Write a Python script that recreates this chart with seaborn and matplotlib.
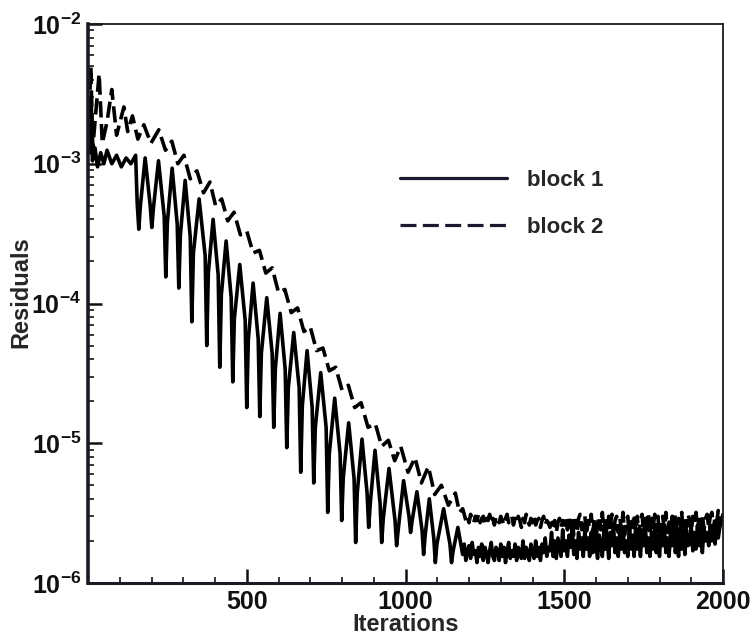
import numpy as np
import pandas as pd
import matplotlib
matplotlib.use("Agg")
import matplotlib.pyplot as plt
import seaborn as sns
from matplotlib.lines import Line2D
from matplotlib.ticker import FixedLocator, LogLocator, NullFormatter, MultipleLocator

# ---------------- data ----------------
series_names = ["block 1", "block 2"]

# block 1 (solid): start-up spikes, then rounded peaks / narrow deep dips every ~42 iterations
b1_iter = [1, 6, 10, 14, 22, 30, 40, 50, 60, 75, 90, 105, 120, 135, 150,
           155, 160, 165, 180, 196, 201, 206, 222, 240, 245, 250, 265,
           281, 286, 291, 306, 322, 327, 332, 350, 369, 374, 379, 394,
           410, 415, 420, 435, 451, 456, 461, 478, 495, 500, 505, 520,
           536, 541, 546, 563, 580, 585, 590, 605, 621, 626, 631, 648,
           665, 670, 675, 690, 706, 711, 716, 733, 750, 755, 760, 777,
           794, 799, 804, 821, 838, 843, 848, 863, 879, 884, 889, 904,
           920, 925, 930, 948, 967, 972, 977, 994, 1011, 1016, 1021, 1036,
           1052, 1057, 1062, 1075, 1089, 1094, 1099, 1120, 1140, 1145, 1150, 1165]
b1_vals = [1.9e-3, 1.2e-3, 3.0e-3, 1.05e-3, 1.3e-3, 0.95e-3, 1.2e-3, 1.0e-3,
           1.25e-3, 1.0e-3, 1.15e-3, 0.95e-3, 1.1e-3, 1.0e-3, 1.15e-3,
           5.2e-4, 3.4e-4, 5.0e-4, 1.1e-3, 5.0e-4, 3.5e-4, 4.8e-4, 1.05e-3,
           4.2e-4, 1.55e-4, 3.8e-4, 9.3e-4,
           3.7e-4, 1.29e-4, 3.1e-4, 7.6e-4, 3.0e-4, 7.4e-5, 2.3e-4, 5.6e-4,
           2.2e-4, 5.0e-5, 1.65e-4, 4.0e-4,
           1.6e-4, 3.5e-5, 1.15e-4, 2.8e-4, 1.1e-4, 2.75e-5, 7.8e-5, 1.9e-4,
           7.6e-5, 1.8e-5, 5.5e-5, 1.4e-4,
           5.6e-5, 1.55e-5, 4.4e-5, 1.1e-4, 4.4e-5, 1.3e-5, 3.4e-5, 8.5e-5,
           3.4e-5, 9.3e-6, 2.5e-5, 6.2e-5,
           2.5e-5, 6.2e-6, 1.85e-5, 4.6e-5, 1.8e-5, 5.2e-6, 1.3e-5, 3.2e-5,
           1.3e-5, 3.2e-6, 8.4e-6, 2.1e-5,
           8.4e-6, 2.8e-6, 5.7e-6, 1.4e-5, 5.6e-6, 1.95e-6, 4.4e-6, 1.07e-5,
           4.4e-6, 2.5e-6, 3.7e-6, 8.9e-6,
           3.7e-6, 1.95e-6, 2.9e-6, 6.6e-6, 2.8e-6, 1.85e-6, 2.4e-6, 5.4e-6,
           3.0e-6, 2.3e-6, 2.8e-6, 4.5e-6,
           2.4e-6, 1.6e-6, 2.2e-6, 4.0e-6, 2.1e-6, 1.4e-6, 1.9e-6, 3.4e-6,
           1.9e-6, 1.4e-6, 1.7e-6, 2.5e-6]

# block 2 (dashed): smoother decay with small oscillations
b2_iter = [1, 9, 15, 35, 45, 60, 75, 90, 113, 125, 140, 157, 176, 198, 223,
           244, 264, 283, 302, 322, 343, 364, 384, 402, 421, 440, 460, 480,
           500, 520, 540, 560, 580, 600, 620, 640, 660, 680, 700, 720, 740,
           760, 780, 800, 820, 840, 860, 882, 905, 925, 946, 966, 985, 1008,
           1030, 1050, 1072, 1092, 1113, 1135, 1157, 1170]
b2_vals = [1.6e-3, 4.9e-3, 1.3e-3, 4.4e-3, 1.4e-3, 2.0e-3, 3.4e-3, 1.6e-3,
           2.55e-3, 1.7e-3, 2.2e-3, 1.5e-3, 1.9e-3, 1.4e-3, 1.75e-3, 1.25e-3,
           1.45e-3, 1.0e-3, 1.15e-3, 7.8e-4, 8.9e-4, 6.2e-4, 7.4e-4, 5.0e-4,
           5.6e-4, 3.9e-4, 4.5e-4, 3.1e-4, 3.3e-4, 2.3e-4, 2.4e-4, 1.65e-4,
           1.8e-4, 1.2e-4, 1.26e-4, 8.6e-5, 9.3e-5, 6.3e-5, 6.8e-5, 4.6e-5,
           4.8e-5, 3.3e-5, 3.5e-5, 2.4e-5, 2.6e-5, 1.8e-5, 1.95e-5, 1.3e-5,
           1.38e-5, 9.5e-6, 1.05e-5, 7.5e-6, 9.5e-6, 6.2e-6, 7.9e-6, 5.2e-6,
           6.8e-6, 4.3e-6, 5.0e-6, 3.6e-6, 4.4e-6, 3.2e-6]

# noisy plateau, iterations 1180..2000 every 5, values in units of 1e-6
tail_iter = list(range(1180, 2001, 5))
b1_tail = [1.6, 1.9, 1.45, 1.7, 1.85, 1.5, 1.95, 1.6, 1.7, 1.4, 1.8,
           1.55, 1.9, 1.45, 1.8, 1.65, 1.4, 1.7, 1.95, 1.55, 1.45, 1.8,
           1.7, 1.45, 1.9, 1.55, 1.8, 1.4, 1.7, 1.95, 1.5, 1.7, 1.55,
           1.9, 1.45, 1.8, 1.65, 1.5, 2.0, 1.5, 1.8, 1.65, 1.45, 1.9,
           1.65, 1.5, 2.0, 1.55, 1.8, 1.45, 1.9, 1.65, 2.1, 1.55, 1.8,
           1.7, 2.3, 1.55, 2.0, 1.5, 2.1, 1.8, 1.55, 2.4, 1.7, 2.0,
           1.55, 2.2, 1.8, 2.5, 1.6, 2.0, 1.5, 2.3, 1.75, 2.1, 1.55,
           2.4, 1.75, 2.1, 1.55, 2.3, 1.65, 2.6, 1.8, 1.5, 2.2, 1.9,
           1.55, 2.4, 1.75, 2.1, 1.5, 2.3, 1.85, 2.6, 1.65, 2.1, 1.55,
           2.3, 1.75, 2.5, 1.65, 2.0, 1.55, 2.4, 1.75, 2.2, 1.55, 2.5,
           1.75, 2.1, 1.55, 2.4, 1.85, 2.7, 1.65, 2.1, 1.55, 2.3, 1.75,
           2.5, 1.65, 2.2, 1.55, 2.4, 1.85, 2.6, 1.65, 2.1, 1.55, 2.3,
           1.85, 2.6, 1.65, 2.2, 1.55, 2.5, 1.75, 2.3, 1.6, 2.4, 1.85,
           1.9, 2.5, 1.7, 2.3, 1.75, 2.6, 1.85, 2.4, 1.65, 2.5, 2.0,
           2.3, 1.85, 2.6, 2.0, 2.5, 1.9, 2.7, 2.1, 2.5, 2.8, 3.1]
b2_tail = [3.4, 3.1, 2.8, 3.0, 2.7, 3.1, 2.9, 2.7, 3.0, 2.8, 3.1,
           2.7, 2.9, 3.0, 2.6, 2.9, 2.8, 3.1, 2.7, 2.9, 2.6, 3.0,
           2.8, 2.7, 3.0, 2.8, 2.6, 2.9, 3.1, 2.7, 2.8, 3.0, 2.6,
           2.9, 2.7, 3.0, 2.8, 2.5, 2.9, 2.7, 3.1, 2.8, 2.6, 2.9,
           2.7, 3.0, 2.6, 2.8, 2.9, 2.5, 2.8, 3.0, 2.6, 2.8, 2.7,
           2.5, 2.9, 2.6, 2.8, 2.3, 2.7, 2.9, 2.5, 2.8, 2.6, 3.0,
           2.4, 2.9, 2.5, 3.0, 2.2, 2.8, 2.3, 2.9, 3.1, 2.4, 2.7,
           3.0, 2.2, 2.8, 2.5, 3.1, 2.3, 2.9, 2.0, 2.7, 3.0, 2.4,
           3.2, 2.3, 2.9, 2.1, 3.0, 2.5, 3.1, 2.1, 2.8, 3.0, 2.3,
           2.9, 2.4, 3.2, 2.2, 2.8, 3.0, 2.1, 2.9, 2.5, 3.1, 2.3,
           3.0, 2.2, 2.8, 3.1, 2.3, 2.9, 2.4, 3.2, 2.2, 2.9, 2.5,
           3.1, 2.3, 3.0, 2.1, 2.8, 3.0, 2.4, 3.2, 2.3, 2.9, 2.2,
           3.0, 2.4, 3.1, 2.3, 2.9, 2.6, 3.2, 2.2, 3.0, 2.5, 3.1,
           2.8, 2.3, 3.0, 2.6, 3.2, 2.4, 3.0, 2.5, 3.1, 2.4, 2.9,
           3.1, 2.5, 3.0, 3.2, 2.4, 3.0, 2.7, 3.3, 2.6, 3.1, 2.9]

x_ticks = [500, 1000, 1500, 2000]
x_ticklabels = ["500", "1000", "1500", "2000"]
y_ticks = [1e-6, 1e-5, 1e-4, 1e-3, 1e-2]
y_ticklabels = [r"$10^{-6}$", r"$10^{-5}$", r"$10^{-4}$", r"$10^{-3}$", r"$10^{-2}$"]

# ---------------- build long-form table ----------------
tail_scale = 1e-6
df = pd.concat([
    pd.DataFrame({"Iterations": b1_iter + tail_iter,
                  "Residuals": b1_vals + [v * tail_scale for v in b1_tail],
                  "block": series_names[0]}),
    pd.DataFrame({"Iterations": b2_iter + tail_iter,
                  "Residuals": b2_vals + [v * tail_scale for v in b2_tail],
                  "block": series_names[1]}),
], ignore_index=True)

# ---------------- style ----------------
sns.set_style("ticks")
plt.rcParams["font.family"] = ["Liberation Sans", "DejaVu Sans"]
plt.rcParams["font.weight"] = "bold"
plt.rcParams["axes.labelweight"] = "bold"
plt.rcParams["mathtext.fontset"] = "custom"
plt.rcParams["mathtext.rm"] = "Liberation Sans:bold"
plt.rcParams["mathtext.it"] = "Liberation Sans:bold"
plt.rcParams["mathtext.bf"] = "Liberation Sans:bold"
plt.rcParams["axes.unicode_minus"] = False

fig = plt.figure(figsize=(7.56, 6.41), dpi=100, facecolor="white")
ax = fig.add_axes([88 / 756, 1 - 583 / 641, (723 - 88) / 756, (583 - 24) / 641])

sns.lineplot(data=df, x="Iterations", y="Residuals", style="block",
             dashes={"block 1": "", "block 2": (4.5, 1.8)},
             color="black", estimator=None, sort=False, linewidth=2.6,
             legend=False, ax=ax)

ax.set_yscale("log")
ax.set_xlim(0, 2000)
ax.set_ylim(1e-6, 1e-2)

ax.xaxis.set_major_locator(FixedLocator(x_ticks))
ax.set_xticklabels(x_ticklabels)
ax.xaxis.set_minor_locator(MultipleLocator(100))
ax.yaxis.set_major_locator(FixedLocator(y_ticks))
ax.set_yticklabels(y_ticklabels)
ax.yaxis.set_minor_locator(LogLocator(base=10, subs=np.arange(2, 10)))
ax.yaxis.set_minor_formatter(NullFormatter())

ax.tick_params(axis="both", which="major", direction="in", length=10, width=1.8,
               labelsize=18, colors="#111111", pad=5)
ax.tick_params(axis="both", which="minor", direction="in", length=4.5, width=1.3)
ax.tick_params(top=False, right=False, which="both")
for lab in ax.get_xticklabels() + ax.get_yticklabels():
    lab.set_fontweight("bold")

ax.spines["left"].set_linewidth(2.6)
ax.spines["bottom"].set_linewidth(2.2)
ax.spines["top"].set_linewidth(1.3)
ax.spines["right"].set_linewidth(1.3)
for s in ax.spines.values():
    s.set_color("#1a1a22")

ax.set_xlabel("Iterations", fontsize=17, fontweight="bold", labelpad=-1)
ax.set_ylabel("Residuals", fontsize=17, fontweight="bold")
ax.yaxis.set_label_coords(-0.088, 0.52)

# legend built from the series names
handles = [Line2D([], [], color="#1a1a2e", lw=2.3, linestyle="-"),
           Line2D([], [], color="#1a1a2e", lw=2.3, dashes=(5, 2))]
ax.legend(handles, series_names, loc="upper left",
          bbox_to_anchor=(380 / 756, 1 - 150 / 641), bbox_transform=fig.transFigure,
          frameon=False, handlelength=4.8, handletextpad=0.9,
          labelspacing=1.17, prop={"weight": "bold", "size": 16})

fig.savefig("out.png", dpi=100, facecolor="white")
